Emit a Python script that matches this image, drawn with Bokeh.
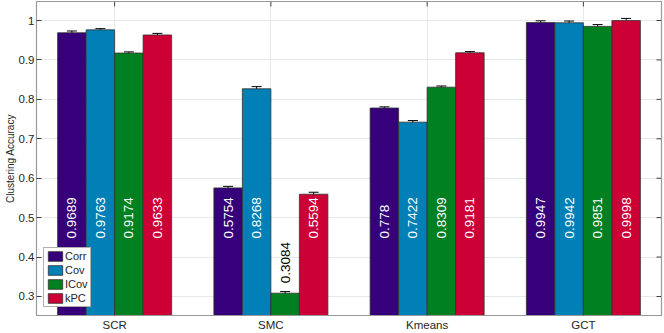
import numpy as np
from bokeh.plotting import figure
from bokeh.models import (ColumnDataSource, FixedTicker, Range1d,
                          Whisker, TeeHead, Legend, LegendItem)
from bokeh.core.properties import value
from bokeh.embed import file_html
from bokeh.resources import INLINE

groups = ["SCR", "SMC", "Kmeans", "GCT"]
methods = ["Corr", "Cov", "ICov", "kPC"]
colors = ["#35007a", "#0080b6", "#008020", "#cc0035"]
corr = [0.9689, 0.5754, 0.778, 0.9947]
cov = [0.9763, 0.8268, 0.7422, 0.9942]
icov = [0.9174, 0.3084, 0.8309, 0.9851]
kpc = [0.9633, 0.5594, 0.9181, 0.9998]
corr_err = [0.0045, 0.004, 0.003, 0.0045]
cov_err = [0.003, 0.0055, 0.004, 0.0045]
icov_err = [0.003, 0.004, 0.003, 0.0045]
kpc_err = [0.004, 0.005, 0.003, 0.0055]
y_ticks = [0.3, 0.4, 0.5, 0.6, 0.7, 0.8, 0.9, 1.0]

series = [corr, cov, icov, kpc]
errs = [corr_err, cov_err, icov_err, kpc_err]

FONT = "Liberation Sans"
TXT = "#262626"
X0, X1 = 0.5, 4.5
Y0, Y1 = 0.2518, 1.0482
FW, FH = 625, 314  # frame size in px

p = figure(width=664, height=333, output_backend="svg", toolbar_location=None,
           x_range=Range1d(X0, X1), y_range=Range1d(Y0, Y1),
           min_border_left=36, min_border_right=3, min_border_top=1,
           min_border_bottom=18)
p.outline_line_color = "#999999"
p.outline_line_width = 1.2
p.background_fill_color = "white"

bw = 0.1824
gx = np.arange(1, len(groups) + 1)

# grid
p.xgrid.ticker = FixedTicker(ticks=list(gx))
p.ygrid.ticker = FixedTicker(ticks=y_ticks)
p.grid.grid_line_color = "#e8e8e8"
p.grid.grid_line_width = 1

items = []
for i, (vals, err, col, name) in enumerate(zip(series, errs, colors, methods)):
    xs = gx + (i - 1.5) * bw
    v = np.array(vals)
    e = np.array(err)
    src = ColumnDataSource(dict(x=xs, top=v, up=v + e, lo=v - e,
                                txt=[f"{t:g}" for t in vals],
                                ty=[0.447 if t > 0.5 else t + 0.025 for t in vals],
                                tc=["white" if t > 0.5 else "black" for t in vals]))
    r = p.vbar(x="x", top="top", bottom=0.0, width=bw, source=src,
               fill_color=col, line_color="#303030", line_width=0.8)
    items.append(LegendItem(label=name, renderers=[r]))
    w = Whisker(source=src, base="x", upper="up", lower="lo", line_color="black",
                line_width=1,
                upper_head=TeeHead(size=10, line_color="black", line_width=1),
                lower_head=TeeHead(size=10, line_color="black", line_width=1))
    p.add_layout(w)
    p.text(x="x", y="ty", text="txt", source=src, angle=np.pi / 2,
           text_align="left", text_baseline="middle", text_color="tc",
           text_font=value(FONT), text_font_size="13.5px")

# top and right inward ticks (box axes)
tick_len_x = 5 * (X1 - X0) / FW
tick_len_y = 5 * (Y1 - Y0) / FH
p.segment(x0=list(gx), x1=list(gx), y0=[Y1] * len(gx), y1=[Y1 - tick_len_y] * len(gx),
          line_color="#404040", line_width=1)
p.segment(x0=[X1] * len(y_ticks), x1=[X1 - tick_len_x] * len(y_ticks),
          y0=y_ticks, y1=y_ticks, line_color="#404040", line_width=1)

legend = Legend(items=items, location=(7, 8), orientation="vertical",
                label_text_font=FONT, label_text_font_size="11px",
                label_text_color=TXT, glyph_width=18, glyph_height=12,
                label_standoff=1, spacing=2, padding=2, margin=0,
                label_height=12, border_line_color="#606060",
                border_line_width=1, background_fill_alpha=1)
p.add_layout(legend, "center")

# axes
p.xaxis.ticker = FixedTicker(ticks=list(gx))
p.xaxis.major_label_overrides = {int(k): g for k, g in zip(gx, groups)}
p.yaxis.ticker = FixedTicker(ticks=y_ticks)
p.yaxis.major_label_overrides = {t: f"{t:g}" for t in y_ticks}
for ax in (p.xaxis[0], p.yaxis[0]):
    ax.axis_line_color = "#999999"
    ax.major_tick_line_color = "#404040"
    ax.major_tick_in = 5
    ax.major_tick_out = 0
    ax.minor_tick_line_color = None
    ax.major_label_text_font = FONT
    ax.major_label_text_font_size = "11.5px"
    ax.major_label_text_color = TXT
    ax.major_label_standoff = 3
p.yaxis.major_label_standoff = 2
p.yaxis.axis_label = "Clustering Accuracy"
p.yaxis.axis_label_text_font = FONT
p.yaxis.axis_label_text_font_size = "10px"
p.yaxis.axis_label_text_font_style = "normal"
p.yaxis.axis_label_text_color = TXT
p.yaxis.axis_label_standoff = 0

open("out.html", "w").write(file_html(p, INLINE))
